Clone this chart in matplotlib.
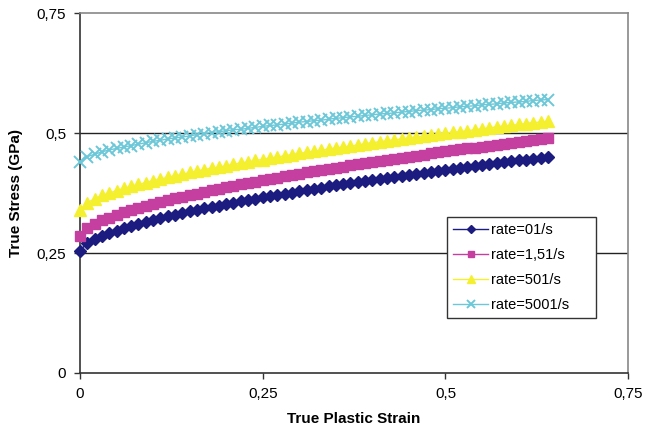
import numpy as np
import matplotlib
matplotlib.use("Agg")
import matplotlib.pyplot as plt

plt.rcParams['font.family'] = ['Liberation Sans', 'DejaVu Sans']

# true plastic strain, sampled every 0.01
strain = np.round(np.arange(0, 0.645, 0.01), 2)

# true stress (GPa)
rate_0 = [0.255, 0.271, 0.279, 0.286, 0.292, 0.297, 0.302, 0.307, 0.311, 0.315,
          0.319, 0.323, 0.327, 0.330, 0.333, 0.337, 0.340, 0.343, 0.346, 0.349,
          0.352, 0.355, 0.358, 0.361, 0.363, 0.366, 0.369, 0.371, 0.374, 0.376,
          0.379, 0.381, 0.384, 0.386, 0.389, 0.391, 0.393, 0.395, 0.398, 0.400,
          0.402, 0.404, 0.407, 0.409, 0.411, 0.413, 0.415, 0.417, 0.419, 0.421,
          0.423, 0.425, 0.427, 0.429, 0.431, 0.433, 0.435, 0.437, 0.439, 0.441,
          0.443, 0.445, 0.446, 0.448, 0.450]
rate_1_5 = [0.285, 0.302, 0.311, 0.318, 0.324, 0.329, 0.335, 0.339, 0.344, 0.348,
            0.352, 0.356, 0.360, 0.364, 0.367, 0.371, 0.374, 0.378, 0.381, 0.384,
            0.387, 0.390, 0.393, 0.396, 0.399, 0.402, 0.404, 0.407, 0.410, 0.413,
            0.415, 0.418, 0.420, 0.423, 0.425, 0.428, 0.430, 0.433, 0.435, 0.437,
            0.440, 0.442, 0.444, 0.447, 0.449, 0.451, 0.453, 0.455, 0.458, 0.460,
            0.462, 0.464, 0.466, 0.468, 0.470, 0.472, 0.474, 0.476, 0.478, 0.480,
            0.482, 0.484, 0.486, 0.488, 0.490]
rate_50 = [0.340, 0.355, 0.363, 0.370, 0.375, 0.380, 0.385, 0.389, 0.393, 0.397,
           0.401, 0.404, 0.408, 0.411, 0.414, 0.418, 0.421, 0.424, 0.427, 0.429,
           0.432, 0.435, 0.438, 0.440, 0.443, 0.445, 0.448, 0.450, 0.453, 0.455,
           0.458, 0.460, 0.462, 0.464, 0.467, 0.469, 0.471, 0.473, 0.475, 0.478,
           0.480, 0.482, 0.484, 0.486, 0.488, 0.490, 0.492, 0.494, 0.496, 0.498,
           0.500, 0.502, 0.503, 0.505, 0.507, 0.509, 0.511, 0.513, 0.515, 0.516,
           0.518, 0.520, 0.522, 0.523, 0.525]
rate_500 = [0.440, 0.451, 0.456, 0.461, 0.465, 0.468, 0.471, 0.474, 0.477, 0.480,
            0.483, 0.485, 0.488, 0.490, 0.492, 0.494, 0.497, 0.499, 0.501, 0.503,
            0.505, 0.507, 0.508, 0.510, 0.512, 0.514, 0.516, 0.517, 0.519, 0.521,
            0.523, 0.524, 0.526, 0.527, 0.529, 0.531, 0.532, 0.534, 0.535, 0.537,
            0.538, 0.540, 0.541, 0.542, 0.544, 0.545, 0.547, 0.548, 0.549, 0.551,
            0.552, 0.553, 0.555, 0.556, 0.557, 0.559, 0.560, 0.561, 0.563, 0.564,
            0.565, 0.566, 0.568, 0.569, 0.570]

labels = ['rate=01/s', 'rate=1,51/s', 'rate=501/s', 'rate=5001/s']
xticks = [0, 0.25, 0.5, 0.75]
xtick_labels = ['0', '0,25', '0,5', '0,75']
yticks = [0, 0.25, 0.5, 0.75]
ytick_labels = ['0', '0,25', '0,5', '0,75']

fig = plt.figure(figsize=(6.45, 4.34), dpi=100)
ax = fig.add_axes([0.124, 0.1406, 0.850, 0.829])

# horizontal gridlines like Excel
for y in yticks[1:3]:
    ax.axhline(y, color='#222222', lw=1.0, zorder=1)

ax.plot(strain, rate_0, color='#1c1c80', marker='D', ms=6, lw=1, label=labels[0], zorder=3, clip_on=False)
ax.plot(strain, rate_1_5, color='#c43fa0', marker='s', ms=7, lw=1, label=labels[1], zorder=3, clip_on=False)
ax.plot(strain, rate_50, color='#f4f030', marker='^', ms=8, lw=1, label=labels[2], zorder=3, clip_on=False)
ax.plot(strain, rate_500, color='#6cc8d8', marker='x', ms=8, mew=1.4, lw=1, label=labels[3], zorder=3, clip_on=False)

ax.set_xlim(0, 0.75)
ax.set_ylim(0, 0.75)
ax.set_xticks(xticks)
ax.set_xticklabels(xtick_labels)
ax.set_yticks(yticks)
ax.set_yticklabels(ytick_labels)
ax.tick_params(direction='out', length=4, width=1, labelsize=11, color='#333333', pad=6)

for side in ['left', 'bottom']:
    ax.spines[side].set_color('#333333')
    ax.spines[side].set_linewidth(1.2)
for side in ['top', 'right']:
    ax.spines[side].set_color('#888888')
    ax.spines[side].set_linewidth(1.2)

ax.set_xlabel('True Plastic Strain', fontsize=11, fontweight='bold', labelpad=8)
ax.set_ylabel('True Stress (GPa)', fontsize=11, fontweight='bold', labelpad=10)

leg = ax.legend(loc='lower left', bbox_to_anchor=(0.67, 0.153, 0.272, 0.286),
                mode='expand', fancybox=False, edgecolor='#333333', fontsize=10.5,
                handlelength=2.4, handletextpad=0.2, markerscale=0.7,
                borderaxespad=0, labelspacing=0.75, framealpha=1)
leg.get_frame().set_linewidth(1.0)

fig.savefig('out.png', dpi=100)
